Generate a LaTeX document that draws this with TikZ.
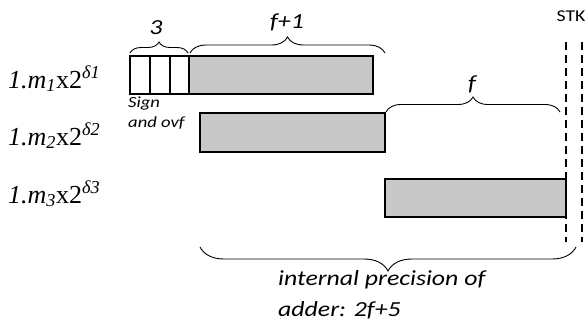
\documentclass[tikz,border=0pt]{standalone}
\usepackage{fontspec}
\setmainfont{Liberation Serif}
\newfontfamily\calib[FakeStretch=1.2]{Carlito}
\usetikzlibrary{decorations.pathreplacing}
\definecolor{barfill}{RGB}{200,200,200}
\tikzset{
  bar/.style={draw=black, line width=1.3pt, fill=barfill},
  cell/.style={draw=black, line width=1.3pt, fill=white},
  curly/.style={draw=black, line width=0.9pt, decorate,
    decoration={brace, amplitude=#1}},
  lbl/.style={font=\fontsize{26}{28}\selectfont, anchor=base west, inner sep=0pt},
  note/.style={font=\calib\itshape\fontsize{21.5}{31}\selectfont, inner sep=0pt},
  small/.style={font=\calib\itshape\fontsize{15.5}{20}\selectfont, inner sep=0pt, align=left, anchor=north west},
  stack/.style={line width=2.6pt, dash pattern=on 8pt off 5pt},
}
\begin{document}
\begin{tikzpicture}[x=1pt, y=-1pt]
\useasboundingbox (0,0) rectangle (585,335);

% operand labels
\node[lbl] (l1) at (8,88) {\textit{1.m\textsubscript{1}}x2\textsuperscript{\textit{δ1}}};
\node[lbl] (l2) at (8,145) {\textit{1.m\textsubscript{2}}x2\textsuperscript{\textit{δ2}}};
\node[lbl] (l3) at (8,203) {\textit{1.m\textsubscript{3}}x2\textsuperscript{\textit{δ3}}};

% first operand: three guard cells and the mantissa
\draw[cell] (130,56) rectangle (150,94);
\draw[cell] (150,56) rectangle (170,94);
\draw[cell] (170,56) rectangle (189,94);
\draw[bar] (189,56) rectangle (373,94);

% second and third operands
\draw[bar] (200,113) rectangle (385,152);
\draw[bar] (385,179) rectangle (566,217);

% sticky bit boundaries
\coordinate (s1t) at (566,42);
\coordinate (s1b) at (566,242);
\coordinate (s2t) at (582,42);
\coordinate (s2b) at (582,242);
\draw[stack] (s1t) -- (s1b);
\draw[stack] (s2t) -- (s2b);
\node[font=\calib\fontsize{16.5}{18}\selectfont, inner sep=0pt] (stk) at (571,16) {STK};

\node[small] (sg) at (128,97) {Sign\\and ovf};

% braces
\coordinate (b3a) at (130,53);
\coordinate (b3b) at (188,53);
\draw[curly=11pt] (b3a) -- (b3b);
\node[note] (n3) at (156,28) {3};

\coordinate (bfa) at (190,53);
\coordinate (bfb) at (385,53);
\draw[curly=16pt] (bfa) -- (bfb);
\node[note] (nf1) at (287,22) {f+1};

\coordinate (bga) at (386,112);
\coordinate (bgb) at (560,112);
\draw[curly=15pt] (bga) -- (bgb);
\node[note] (nf) at (472,84) {f};

\coordinate (bba) at (576,247);
\coordinate (bbb) at (200,247);
\draw[curly=24pt] (bba) -- (bbb);
\node[note, anchor=north west, align=left] (np) at (278,270) {internal precision of\\adder: 2f+5};
\end{tikzpicture}
\end{document}
